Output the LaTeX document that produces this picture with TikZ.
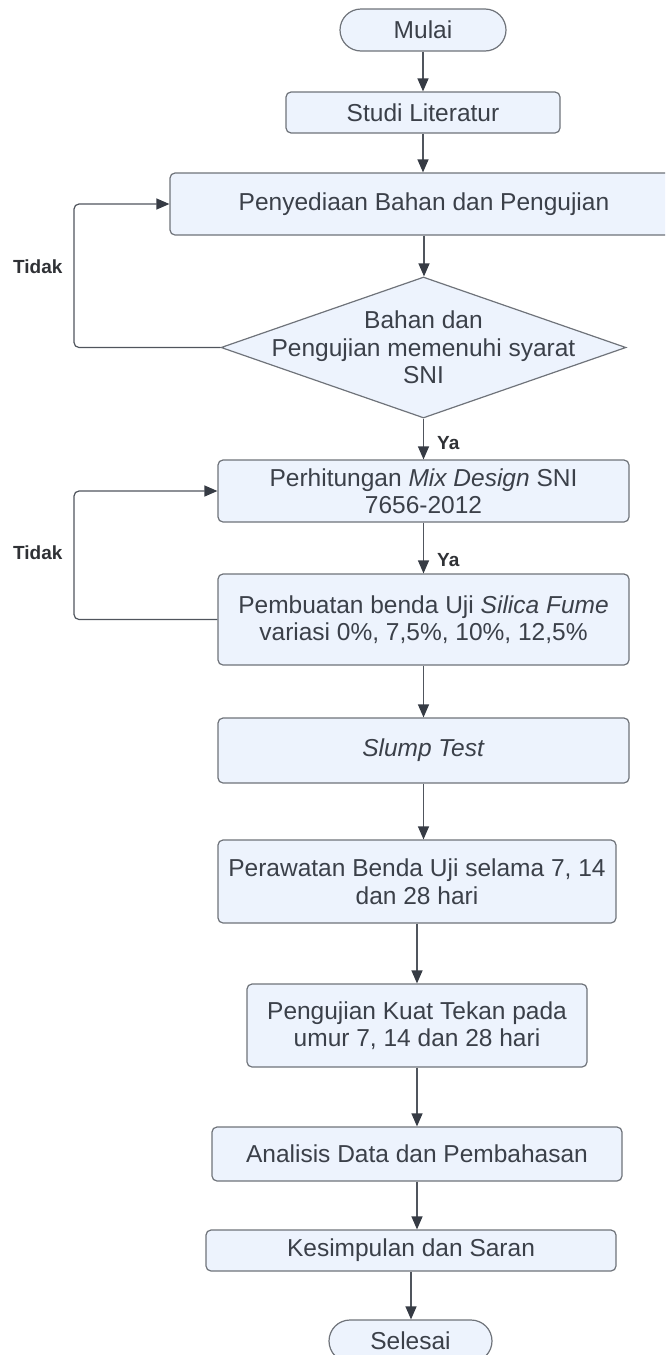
\documentclass[tikz,border=0pt]{standalone}
\usepackage{fontspec}
\setmainfont{Liberation Sans}
\usetikzlibrary{shapes.geometric,arrows.meta}

\definecolor{boxfill}{HTML}{EDF3FD}
\definecolor{boxline}{HTML}{6F737A}
\definecolor{flowline}{HTML}{50555D}
\definecolor{tipcol}{HTML}{363B44}
\definecolor{txtcol}{HTML}{3B4049}
\definecolor{lblcol}{HTML}{2F3135}

\tikzset{
  base/.style={draw=boxline, fill=boxfill, line width=1.2pt, text=txtcol,
    font=\fontsize{24.5}{27.5}\selectfont, align=center, inner sep=0pt},
  procbox/.style={base, rectangle, rounded corners=5pt},
  terminal/.style={base, rectangle, rounded corners=21pt},
  decision/.style={base, diamond},
  plaintext/.style={text=txtcol, font=\fontsize{24.5}{27.5}\selectfont, align=center, inner sep=0pt},
  lbl/.style={text=lblcol, font=\fontsize{19}{22}\selectfont\bfseries, inner sep=0pt},
  flow/.style={draw=flowline, line width=1.2pt,
    -{Triangle[length=13pt,width=11pt,color=tipcol]}},
}

\begin{document}
\begin{tikzpicture}[x=1pt,y=-1pt]
  \path[use as bounding box, clip] (0,0) rectangle (665,1355);

  % process steps
  \node[terminal, minimum width=166pt, minimum height=42pt] (mulai) at (423,30) {Mulai};
  \node[procbox, minimum width=274pt, minimum height=41pt] (studi) at (423,112.5) {Studi Literatur};
  \node[procbox, minimum width=508pt, minimum height=62pt] (sedia) at (424,204) {Penyediaan Bahan dan Pengujian};
  \node[decision, minimum width=405pt, minimum height=141pt] (cek) at (423.5,347.5) {};
  \node[plaintext] (cektext) at (cek.center) {Bahan dan\\Pengujian memenuhi syarat\\SNI};
  \node[procbox, minimum width=411pt, minimum height=62pt] (mix) at (423.5,491) {Perhitungan \textit{Mix Design} SNI\\7656-2012};
  \node[procbox, minimum width=411pt, minimum height=91pt] (buat) at (423.5,619.5) {Pembuatan benda Uji \textit{Silica Fume}\\variasi 0\%, 7,5\%, 10\%, 12,5\%};
  \node[procbox, minimum width=411pt, minimum height=65pt] (slump) at (423.5,750.5) {\textit{Slump Test}};
  \node[procbox, minimum width=398pt, minimum height=83pt] (rawat) at (417,881.5) {Perawatan Benda Uji selama 7, 14\\dan 28 hari};
  \node[procbox, minimum width=340pt, minimum height=83pt] (tekan) at (417,1025.5) {Pengujian Kuat Tekan pada\\umur 7, 14 dan 28 hari};
  \node[procbox, minimum width=410pt, minimum height=54pt] (analisis) at (417,1154) {Analisis Data dan Pembahasan};
  \node[procbox, minimum width=410pt, minimum height=41pt] (simpul) at (411,1250.5) {Kesimpulan dan Saran};
  \node[terminal, minimum width=163pt, minimum height=42pt] (selesai) at (410.5,1341) {Selesai};

  % branch labels
  \node[lbl, anchor=west] (tidak1) at (13,267) {Tidak};
  \node[lbl, anchor=west] (ya1) at (437,443) {Ya};
  \node[lbl, anchor=west] (tidak2) at (13,553) {Tidak};
  \node[lbl, anchor=west] (ya2) at (437,560) {Ya};

  % return path column
  \coordinate (balik) at (74,0);

  % main flow
  \draw[flow] (mulai.south) -- (studi.north);
  \draw[flow] (studi.south) -- (studi.south |- sedia.north);
  \draw[flow] (sedia.south) -- (sedia.south |- cek.north);
  \draw[flow] (cek.south) -- (cek.south |- mix.north);
  \draw[flow] (mix.south) -- (buat.north);
  \draw[flow] (buat.south) -- (slump.north);
  \draw[flow] (slump.south) -- (slump.south |- rawat.north);
  \draw[flow] (rawat.south) -- (tekan.north);
  \draw[flow] (tekan.south) -- (analisis.north);
  \draw[flow] (analisis.south) -- (analisis.south |- simpul.north);
  \draw[flow] (simpul.south) -- (simpul.south |- selesai.north);

  % return paths
  \draw[flow, rounded corners=5pt] (cek.west) -| (balik |- sedia.west) -- (sedia.west);
  \draw[flow, rounded corners=5pt] (buat.west) -| (balik |- mix.west) -- (mix.west);
\end{tikzpicture}
\end{document}
